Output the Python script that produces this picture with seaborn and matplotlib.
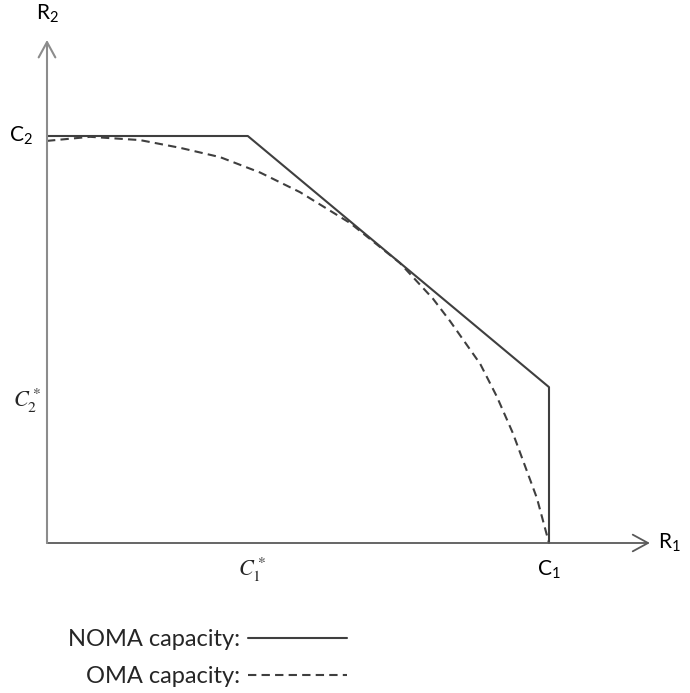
import matplotlib
matplotlib.use("Agg")
import matplotlib.pyplot as plt
import numpy as np
import seaborn as sns

# capacity regions, R1 normalised by C1, R2 normalised by C2
noma_r1 = [0.0, 0.40, 1.0, 1.0]
noma_r2 = [1.0, 1.0, 0.383, 0.0]

oma_r1 = [0.0, 0.086, 0.185, 0.265, 0.345, 0.425, 0.504, 0.604, 0.703, 0.769,
          0.803, 0.863, 0.896, 0.928, 0.955, 0.976, 1.0]
oma_r2 = [0.988, 0.998, 0.990, 0.971, 0.948, 0.910, 0.862, 0.786, 0.688, 0.600,
          0.545, 0.440, 0.360, 0.270, 0.180, 0.110, 0.0]

c1_star = 0.40
c2_star = 0.35

sns.set_style("white")
plt.rcParams["font.family"] = ["Lato", "DejaVu Sans"]
plt.rcParams["mathtext.fontset"] = "stix"

fig = plt.figure(figsize=(6.9, 6.93), dpi=100)
ax = fig.add_axes([0, 0, 1, 1])
ax.set_xlim(-47 / 502, 643 / 502)
ax.set_ylim(-150 / 407, 543 / 407)
ax.axis("off")

line_col = "#3f3f3f"
sns.lineplot(x=noma_r1, y=noma_r2, sort=False, estimator=None, color=line_col,
             lw=1.5, label="NOMA capacity:", ax=ax)
sns.lineplot(x=oma_r1, y=oma_r2, sort=False, estimator=None, color=line_col,
             lw=1.5, label="OMA capacity:", ax=ax)
ax.lines[-1].set_dashes((4, 2.5))

# axes with open arrow heads
arrow = dict(arrowstyle="->,head_length=0.55,head_width=0.3", mutation_scale=20,
             shrinkA=0, shrinkB=0)
ax.annotate("", xy=(1.201, 0), xytext=(0, 0),
            arrowprops=dict(arrow, color="#595959", lw=1.3))
ax.annotate("", xy=(0, 1.236), xytext=(0, 0),
            arrowprops=dict(arrow, color="#8c8c8c", lw=1.5))

lab = dict(fontsize=15, ha="center", va="center", color="black")
ax.text(0, 1.30, r"$\mathregular{R_2}$", **lab)
ax.text(1.24, 0, r"$\mathregular{R_1}$", **lab)
ax.text(-0.052, 1.0, r"$\mathregular{C_2}$", **lab)
ax.text(1.0, -0.067, r"$\mathregular{C_1}$", **lab)
ax.text(-0.04, c2_star, r"$C_2^*$", fontsize=16, ha="center", va="center")
ax.text(c1_star + 0.008, -0.067, r"$C_1^*$", fontsize=16, ha="center", va="center")

leg = ax.legend(loc="center", bbox_to_anchor=(0.301, 0.0505),
                bbox_transform=fig.transFigure, frameon=False, markerfirst=False,
                fontsize=17, handlelength=4.2, handletextpad=0.35,
                labelspacing=0.66, borderpad=0)

fig.savefig("out.png", dpi=100)
